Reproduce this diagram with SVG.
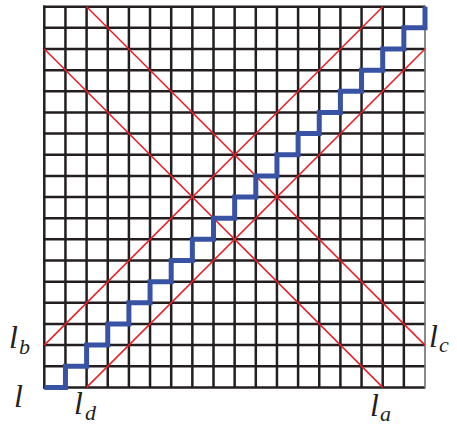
<svg xmlns="http://www.w3.org/2000/svg" width="457" height="426" viewBox="0 0 457 426">
<style>
.grid{stroke:#231f20;stroke-width:2.5;fill:none}
.edge{stroke:#6d6d6d;stroke-width:1.6;fill:none}
.red{stroke:#ed1c24;stroke-width:1.5;fill:none}
.blue{stroke:#3953a4;stroke-width:5;fill:none;stroke-linejoin:miter}
.lab{font-family:"Liberation Serif","Times New Roman",serif;font-style:italic;fill:#231f20}
.m{font-size:32px}
.s{font-size:22px}
</style>
<rect width="457" height="426" fill="#ffffff"/>
<g id="grid">
<path class="grid" d="M44.3 5.5V388.6M65.45 6.7V387.4M86.6 6.7V387.4M107.75 6.7V387.4M128.9 6.7V387.4M150.05 6.7V387.4M171.2 6.7V387.4M192.35 6.7V387.4M213.5 6.7V387.4M234.65 6.7V387.4M255.8 6.7V387.4M276.95 6.7V387.4M298.1 6.7V387.4M319.25 6.7V387.4M340.4 6.7V387.4M361.55 6.7V387.4M382.7 6.7V387.4M403.85 6.7V387.4"/>
<path class="grid" d="M43.1 6.7H425M43.1 27.85H425M43.1 49H425M43.1 70.15H425M43.1 91.3H425M43.1 112.45H425M43.1 133.6H425M43.1 154.75H425M43.1 175.9H425M43.1 197.05H425M43.1 218.2H425M43.1 239.35H425M43.1 260.5H425M43.1 281.65H425M43.1 302.8H425M43.1 323.95H425M43.1 345.1H425M43.1 366.25H425M43.1 387.4H425"/>
<path class="edge" d="M425 5.5V388.6"/>
</g>
<g id="connectors">
<line id="lb-line" class="red" x1="44.3" y1="345.1" x2="382.7" y2="6.7"/>
<line id="ld-line" class="red" x1="86.6" y1="387.4" x2="425" y2="49"/>
<line id="la-line" class="red" x1="44.3" y1="49" x2="382.7" y2="387.4"/>
<line id="lc-line" class="red" x1="86.6" y1="6.7" x2="425" y2="345.1"/>
<path id="path-l" class="blue" d="M44.3 387.4H65.45V366.25H86.6V345.1H107.75V323.95H128.9V302.8H150.05V281.65H171.2V260.5H192.35V239.35H213.5V218.2H234.65V197.05H255.8V175.9H276.95V154.75H298.1V133.6H319.25V112.45H340.4V91.3H361.55V70.15H382.7V49H403.85V27.85H425V6.7"/>
</g>
<g id="label-l"><text class="lab m" x="14" y="407">l</text></g>
<g id="label-lb"><text class="lab m" x="9" y="348">l</text><text class="lab s" x="19" y="354">b</text></g>
<g id="label-ld"><text class="lab m" x="74" y="414">l</text><text class="lab s" x="85" y="420">d</text></g>
<g id="label-la"><text class="lab m" x="370" y="416">l</text><text class="lab s" x="380" y="421">a</text></g>
<g id="label-lc"><text class="lab m" x="429" y="347">l</text><text class="lab s" x="439" y="352">c</text></g>
</svg>
